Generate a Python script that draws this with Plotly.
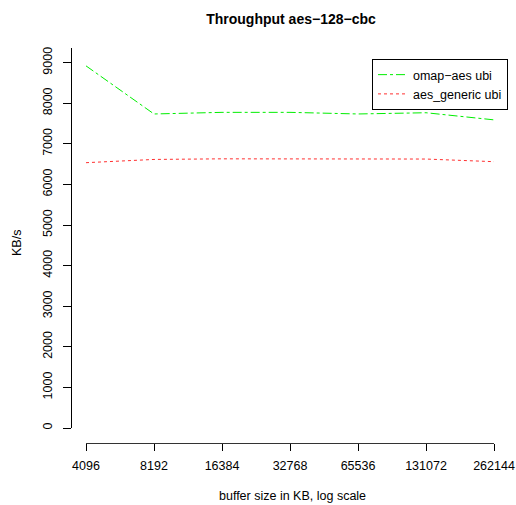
import plotly.graph_objects as go

# Buffer sizes (KB) and measured throughput (KB/s)
buffer_sizes = [4096, 8192, 16384, 32768, 65536, 131072, 262144]
omap_aes_ubi = [8920, 7735, 7775, 7775, 7735, 7765, 7590]
aes_generic_ubi = [6535, 6615, 6630, 6630, 6630, 6625, 6560]
y_ticks = [0, 1000, 2000, 3000, 4000, 5000, 6000, 7000, 8000, 9000]

FONT = "Liberation Sans, Arial, Helvetica, sans-serif"
W, H = 516, 505
ml, mr, mt, mb = 71, 22, 48, 62
pw = W - ml - mr
ph = H - mt - mb

fig = go.Figure()
fig.add_trace(go.Scatter(
    x=buffer_sizes, y=omap_aes_ubi, mode="lines", name="omap\u2212aes ubi",
    line=dict(color="#00ee00", width=1, dash="dashdot"),
))
fig.add_trace(go.Scatter(
    x=buffer_sizes, y=aes_generic_ubi, mode="lines", name="aes_generic ubi",
    line=dict(color="#ff3030", width=1, dash="dot"),
))

fig.update_layout(
    width=W, height=H,
    margin=dict(l=ml, r=mr, t=mt, b=mb, pad=0, autoexpand=False),
    paper_bgcolor="white", plot_bgcolor="white",
    font=dict(family=FONT, size=12.5, color="black"),
    showlegend=True,
    legend=dict(
        x=(508 - ml) / pw, xanchor="right",
        y=(H - mb - 59) / ph, yanchor="top",
        bordercolor="black", borderwidth=1, bgcolor="white",
        font=dict(size=12.5), tracegroupgap=0,
    ),
    title=dict(
        text="<b>Throughput aes\u2212128\u2212cbc</b>",
        x=(291 - ml) / pw, xref="paper", xanchor="center",
        y=1 - 19 / H, yref="container", yanchor="middle",
        font=dict(size=14),
    ),
    xaxis=dict(
        type="log",
        range=[3.6123599, 5.4185399],
        domain=[15 / pw, 1],
        anchor="free", position=0,
        tickvals=buffer_sizes, ticktext=[str(v) for v in buffer_sizes],
        ticks="outside", ticklen=7, tickcolor="black",
        showline=True, linecolor="#333333", linewidth=1,
        showgrid=False, zeroline=False,
        ticklabelstandoff=4, automargin=False,
    ),
    yaxis=dict(
        range=[0, 9360],
        domain=[15 / ph, 1],
        anchor="free", position=0,
        tickvals=y_ticks, ticktext=[str(v) for v in y_ticks],
        tickangle=-90,
        ticks="outside", ticklen=8, tickcolor="black",
        showline=True, linecolor="black", linewidth=1,
        showgrid=False, zeroline=False,
        ticklabelstandoff=6, automargin=False,
    ),
    annotations=[
        dict(text="KB/s", xref="paper", yref="paper",
             x=(17 - ml) / pw, y=(H - mb - 243) / ph,
             xanchor="center", yanchor="middle", textangle=-90,
             showarrow=False, font=dict(size=12.5)),
        dict(text="buffer size in KB, log scale", xref="paper", yref="paper",
             x=(292 - ml) / pw, y=(H - mb - 496) / ph,
             xanchor="center", yanchor="middle",
             showarrow=False, font=dict(size=12.5)),
    ],
)

fig.write_html("out.html")
